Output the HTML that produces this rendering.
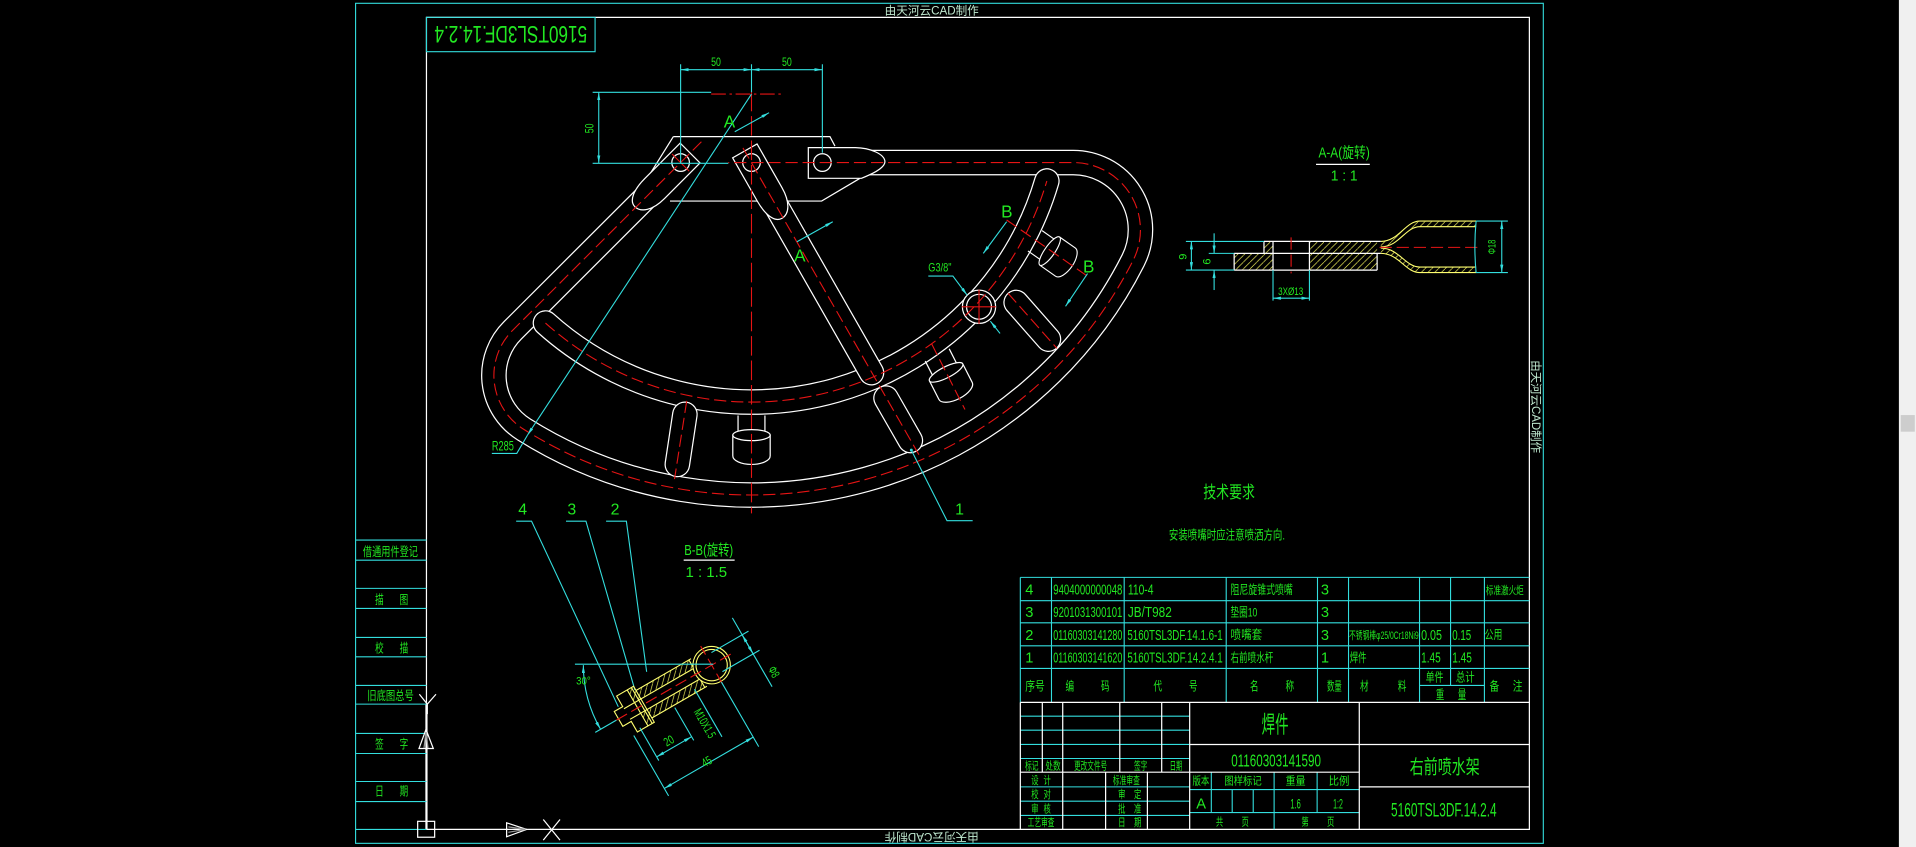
<!DOCTYPE html>
<html><head><meta charset="utf-8">
<style>
html,body{margin:0;padding:0;background:#000;overflow:hidden}
svg{display:block}
text{font-family:"Liberation Sans Narrow","Liberation Sans","Noto Sans CJK SC",sans-serif;fill:#22e822}
.cn{font-family:"Liberation Sans","Noto Sans CJK SC",sans-serif}
.w{stroke:#fff;stroke-width:1;fill:none}
.c{stroke:#33dede;stroke-width:0.9;fill:none}
.r{stroke:#e61414;stroke-width:0.9;fill:none;stroke-dasharray:10 4}
.y{stroke:#ffff70;stroke-width:0.9;fill:none}
.wm{fill:#bfe8cf}
</style></head><body>
<svg width="1916" height="847" viewBox="0 0 1568 693" preserveAspectRatio="none" xmlns="http://www.w3.org/2000/svg">
<defs>
<pattern id="h" patternUnits="userSpaceOnUse" width="5.5" height="5.5"><path d="M-1,6.5 L6.5,-1" stroke="#ffff60" stroke-width="0.5"/></pattern>
<marker id="a" viewBox="0 0 10 4" refX="10" refY="2" markerWidth="6.5" markerHeight="2.6" markerUnits="userSpaceOnUse" orient="auto-start-reverse"><path d="M0,0L10,2L0,4z" fill="#33dede"/></marker>
</defs>
<rect width="1568" height="693" fill="#000"/>

<!-- scrollbar -->
<rect x="1554" y="0" width="14" height="693" fill="#f0f0f0"/>
<rect x="1555.5" y="339.6" width="11.5" height="13.6" fill="#cdcdcd"/>

<!-- frames -->
<rect class="c" x="291" y="2.7" width="972" height="687.3"/>
<path class="w" d="M349,14.2 H1251.6 V678.6 H349 Z"/>
<path d="M349,576 V678.6" stroke="#fff" stroke-width="1.8"/>
<rect class="c" x="349" y="14.2" width="138" height="28.1"/>
<text transform="rotate(180 418 28.3)" x="418" y="35.5" font-size="20" text-anchor="middle" textLength="125" lengthAdjust="spacingAndGlyphs">5160TSL3DF.14.2.4</text>

<!-- watermarks -->
<text class="wm cn" x="724" y="12" font-size="9.5" textLength="77" lengthAdjust="spacingAndGlyphs">由天河云CAD制作</text>
<text class="wm cn" transform="rotate(180 762.5 685)" x="724" y="688.5" font-size="9.5" textLength="77" lengthAdjust="spacingAndGlyphs">由天河云CAD制作</text>
<text class="wm cn" transform="translate(1257.3 332.7) rotate(90)" x="-38" y="3.4" font-size="9.5" textLength="76" lengthAdjust="spacingAndGlyphs">由天河云CAD制作</text>

<!-- left table -->
<g class="c">
<path d="M291,441.9 H349 M291,458.3 H349 M291,481.4 H349 M291,497.8 H349 M291,521.5 H349 M291,537.4 H349 M291,560.8 H349 M291,576.1 H349 M291,600.1 H349 M291,616.5 H349 M291,639.4 H349 M291,655.8 H349 M291,678.6 H349"/>
</g>
<g class="cn" font-size="10">
<text x="297" y="455" textLength="45" lengthAdjust="spacingAndGlyphs">借通用件登记</text>
<text x="307" y="494" textLength="7" lengthAdjust="spacingAndGlyphs">描</text><text x="327" y="494" textLength="7" lengthAdjust="spacingAndGlyphs">图</text>
<text x="307" y="533.7" textLength="7" lengthAdjust="spacingAndGlyphs">校</text><text x="327" y="533.7" textLength="7" lengthAdjust="spacingAndGlyphs">描</text>
<text x="300.6" y="572.7" textLength="38" lengthAdjust="spacingAndGlyphs">旧底图总号</text>
<text x="307" y="612.3" textLength="7" lengthAdjust="spacingAndGlyphs">签</text><text x="327" y="612.3" textLength="7" lengthAdjust="spacingAndGlyphs">字</text>
<text x="307" y="651" textLength="7" lengthAdjust="spacingAndGlyphs">日</text><text x="327" y="651" textLength="7" lengthAdjust="spacingAndGlyphs">期</text>
</g>
<!-- bottom-left symbols -->
<g class="w">
<path d="M343.2,568 L349.7,576.1 L356.8,568 M349.7,576.1 V584.3"/>
<path d="M348.6,596.8 L342.9,612.4 H354.6 Z"/>
<path d="M348.6,599 L347,612 M348.6,599 L350.3,612" stroke="#999"/>
<rect x="341.8" y="672" width="13.9" height="13"/>
<path d="M414.6,673.2 L431,678.6 L414.6,684.6 Z"/>
<path d="M416,676.5 L430,678.6 M416,681 L430,678.6" stroke="#999"/>
<path d="M444.6,670.5 L458.3,687.4 M458.3,670.5 L444.6,687.4"/>
</g>

<!-- ============ MAIN VIEW ============ -->
<path class="w" d="M551,111.8 H679.2 L683.3,119.5 M548.3,164.5 H672.4 L703.8,145.9 M551,111.8 L523.7,155.5"/>

<g fill="none">
<path d="M557,133 L419.6,270.2 A52,52 0 0 0 428.7,351.3 A350,350 0 0 0 927.4,212.8 A55,55 0 0 0 878.3,133 L700,133" stroke="#fff" stroke-width="21"/>
<path d="M557,133 L419.6,270.2 A52,52 0 0 0 428.7,351.3 A350,350 0 0 0 927.4,212.8 A55,55 0 0 0 878.3,133 L700,133" stroke="#000" stroke-width="19"/>
<path d="M446.4,264.3 A252,252 0 0 0 856.7,148.1" stroke="#fff" stroke-width="21" stroke-linecap="round"/>
<path d="M446.4,264.3 A252,252 0 0 0 856.7,148.1" stroke="#000" stroke-width="19" stroke-linecap="round"/>
<path d="M615,133 L713.2,304.9" stroke="#fff" stroke-width="21" stroke-linecap="round"/>
<path d="M615,133 L713.2,304.9" stroke="#000" stroke-width="19" stroke-linecap="round"/>
<path d="M725.1,325.7 L745,360.4" stroke="#fff" stroke-width="21" stroke-linecap="round"/>
<path d="M725.1,325.7 L745,360.4" stroke="#000" stroke-width="19" stroke-linecap="round"/>
<path d="M560.5,339 L554.3,380" stroke="#fff" stroke-width="21" stroke-linecap="round"/>
<path d="M560.5,339 L554.3,380" stroke="#000" stroke-width="19" stroke-linecap="round"/>
<path d="M831.6,247.5 L858,277.5" stroke="#fff" stroke-width="21" stroke-linecap="round"/>
<path d="M831.6,247.5 L858,277.5" stroke="#000" stroke-width="19" stroke-linecap="round"/>
</g>

<g stroke="#fff" stroke-width="1">
<g transform="translate(615,340) rotate(90)">
<path d="M0,-11 H13 M0,11 H13" fill="none"/>
<path d="M16,-15.3 H33 A7,15.3 0 0 1 33,15.3 H16" fill="#000"/>
<ellipse cx="16" cy="0" rx="4.5" ry="15.3" fill="#000"/>
</g>
<g transform="translate(767,290.4) rotate(63)">
<path d="M0,-11 H13 M0,11 H13" fill="none"/>
<path d="M16,-15.3 H33 A7,15.3 0 0 1 33,15.3 H16" fill="#000"/>
<ellipse cx="16" cy="0" rx="4.5" ry="15.3" fill="#000"/>
</g>
<g transform="translate(847,197) rotate(35) scale(0.92)">
<path d="M0,-11 H13 M0,11 H13" fill="none"/>
<path d="M16,-15.3 H33 A7,15.3 0 0 1 33,15.3 H16" fill="#000"/>
<ellipse cx="16" cy="0" rx="4.5" ry="15.3" fill="#000"/>
</g>
</g>

<g stroke="#fff" stroke-width="1" fill="#000">
<g transform="translate(557,133) rotate(135)"><path d="M-11,-11.5 H30 C44,-11.5 52,-6 52,1 C52,8 42,11.5 30,11.5 H-11 Z"/></g>
<g transform="translate(615,133) rotate(60.3)"><path d="M-11,-11.5 H30 C44,-11.5 52,-6 52,1 C52,8 42,11.5 30,11.5 H-11 Z"/></g>
<path d="M661.5,120.8 H700 C712,121 724,126 724.2,132.3 C724,138 712,143 705,145.9 H661.5 Z"/>
<circle cx="557" cy="133" r="7.2"/>
<circle cx="615" cy="133" r="7.2"/>
<circle cx="673" cy="133" r="7.2"/>
<circle cx="801.2" cy="251" r="13.6"/>
<circle cx="801.2" cy="251" r="10.2"/>
</g>

<g class="r">
<path d="M574,116 L557,133 L419.6,270.2 A52,52 0 0 0 428.7,351.3 A350,350 0 0 0 927.4,212.8 A55,55 0 0 0 878.3,133 L596,133"/>
<path d="M446.4,264.3 A252,252 0 0 0 856.7,148.1"/>
<path d="M608,121 L752,372"/>
<path d="M562,328 L552,392"/>
<path d="M825,240 L865,285"/>
<path d="M762.5,281.5 L789.7,335"/>
<path d="M823.8,180 L890,226"/>
<path d="M615,75 V420" stroke-dasharray="16 4"/>
<path d="M582,77 H641" stroke-dasharray="12 3 2 3"/>
<path d="M787,251 H815 M801.2,237 V265" stroke-dasharray="none"/>
<path d="M550,126 L564,140" stroke-dasharray="none"/>
</g>

<g class="c">
<path d="M557,52.6 V133.6 M615,52.6 V75.5 M673,52.6 V125"/>
<path d="M485,75.5 H582 M485,133.6 H596"/>
<path d="M557,57 H615" marker-start="url(#a)" marker-end="url(#a)"/>
<path d="M615,57 H673" marker-start="url(#a)" marker-end="url(#a)"/>
<path d="M490,75.5 V133.6" marker-start="url(#a)" marker-end="url(#a)"/>
<path d="M615,77 L431.7,356" marker-end="url(#a)"/>
<path d="M431.7,356 L422.9,371 H402.5"/>
<path d="M601.3,107.8 L629.4,92.2" marker-end="url(#a)"/>
<path d="M652.2,197.8 L681.5,181.4" marker-end="url(#a)"/>
<path d="M823.8,181.4 L804.7,207.3" marker-end="url(#a)"/>
<path d="M890,223.8 L872,250.6" marker-end="url(#a)"/>
<path d="M759.7,225.9 H779.8 L791.5,241.5" marker-end="url(#a)"/>
<path d="M818.4,272.8 L810.5,262.8" marker-end="url(#a)"/>
<path d="M796,426 H775 L745.8,368.3"/>
</g>
<circle cx="745.8" cy="368.3" r="1.2" fill="#33dede"/>
<g font-size="10">
<text x="586" y="54" text-anchor="middle" textLength="8" lengthAdjust="spacingAndGlyphs">50</text>
<text x="644" y="54" text-anchor="middle" textLength="8" lengthAdjust="spacingAndGlyphs">50</text>
<text transform="translate(485.5 105) rotate(-90)" x="0" y="0" text-anchor="middle" textLength="8" lengthAdjust="spacingAndGlyphs">50</text>
<text x="759.7" y="222" textLength="19" lengthAdjust="spacingAndGlyphs">G3/8"</text>
</g>
<text x="402.5" y="368.5" font-size="11" textLength="18" lengthAdjust="spacingAndGlyphs">R285</text>
<text x="597" y="104.5" font-size="14" text-anchor="middle">A</text>
<text x="654.6" y="214" font-size="14" text-anchor="middle">A</text>
<text x="824" y="178" font-size="14" text-anchor="middle">B</text>
<text x="891" y="223" font-size="14" text-anchor="middle">B</text>
<text x="785.3" y="421" font-size="13" text-anchor="middle">1</text>

<g class="c">
<path d="M422.4,426.4 H435 L506,578.3"/>
<path d="M463.2,426.4 H479.5 L519.6,564.6"/>
<path d="M496,426.4 H512.6 L529.2,549.7"/>
</g>
<g font-size="13" text-anchor="middle">
<text x="427.7" y="421">4</text><text x="468" y="421">3</text><text x="503.3" y="421">2</text>
</g>

<!-- ============ B-B SECTION ============ -->
<text x="560" y="454" font-size="12" textLength="40" lengthAdjust="spacingAndGlyphs">B-B(旋转)</text>
<path class="w" d="M559.5,458.3 H601.2"/>
<text x="561" y="472" font-size="12" textLength="34" lengthAdjust="spacingAndGlyphs">1 : 1.5</text>
<g transform="translate(582.4,544.2) rotate(150)">
<rect x="14" y="-13" width="52" height="8" fill="url(#h)"/>
<rect x="14" y="5" width="52" height="8" fill="url(#h)"/>
<rect x="66" y="-17" width="4" height="12" fill="url(#h)"/>
<rect x="66" y="5" width="4" height="12" fill="url(#h)"/>
<g class="y">
<path d="M12,-13 H64 M12,13 H64 M14,-5 H80 M14,5 H80 M14,-13 V-5 M14,5 V13"/>
<path d="M64,-17 H80 V-7 H88 V7 H80 V17 H64 Z M70,-17 V17 M66,-17 V17"/>
<circle cx="0" cy="0" r="15.3" fill="#000"/>
<circle cx="0" cy="0" r="12.8"/>
</g>
<path class="r" d="M-18,0 H92"/>
<path class="r" d="M0,-18 V18" stroke-dasharray="none"/>
<g class="c">
<path d="M90,0 H110"/>
<path d="M43.5,-15 V-46 M76.5,-15 V-46 M0,-16 V-77 M84,-18 V-75"/>
<path d="M43.5,-42.5 H76.5" marker-start="url(#a)" marker-end="url(#a)"/>
<path d="M0,-68 H84" marker-start="url(#a)" marker-end="url(#a)"/>
<path d="M-5,-9 H-40 M-5,9 H-40"/>
<path d="M-34,-40 V9" marker-end="url(#a)"/>
<path d="M-34,25 V-9" marker-end="url(#a)"/>
<path d="M22,-10 V-55"/>
</g>
</g>
<g class="c">
<path d="M470.5,543.4 H583.7"/>
<path d="M477.4,544.2 A105,105 0 0 0 491.5,596.7" marker-start="url(#a)" marker-end="url(#a)"/>
</g>
<text x="471.5" y="560" font-size="9" textLength="12" lengthAdjust="spacingAndGlyphs">30°</text>
<text transform="translate(549 609) rotate(-30)" x="0" y="0" font-size="10" text-anchor="middle" textLength="8" lengthAdjust="spacingAndGlyphs">20</text>
<text transform="translate(580 626) rotate(-30)" x="0" y="0" font-size="10" text-anchor="middle" textLength="8" lengthAdjust="spacingAndGlyphs">45</text>
<text transform="translate(576.5 592) rotate(60)" x="0" y="3" font-size="10" text-anchor="middle" textLength="26" lengthAdjust="spacingAndGlyphs">M10X1.5</text>
<text transform="translate(633 550) rotate(60)" x="0" y="3" font-size="10" text-anchor="middle" textLength="9" lengthAdjust="spacingAndGlyphs">Φ8</text>

<!-- ============ A-A SECTION ============ -->
<text x="1079" y="129" font-size="12" textLength="42" lengthAdjust="spacingAndGlyphs">A-A(旋转)</text>
<path class="w" d="M1077,134.5 H1121"/>
<text x="1100" y="147.5" font-size="12" text-anchor="middle" textLength="22" lengthAdjust="spacingAndGlyphs">1 : 1</text>
<rect x="1034.4" y="197.5" width="7.4" height="9.8" fill="url(#h)"/>
<rect x="1010" y="207.3" width="31.8" height="13.7" fill="url(#h)"/>
<rect x="1071.6" y="197.5" width="55.4" height="23.5" fill="url(#h)"/>
<path d="M1130,197.5 C1145,197.5 1150,180.9 1162,180.9 H1208 V185.5 H1162 C1150,185.5 1145,202 1130,202 Z" fill="url(#h)"/>
<path d="M1130,207.3 C1145,207.3 1150,223 1162,223 H1208 V218.5 H1162 C1150,218.5 1145,203 1130,203 Z" fill="url(#h)"/>
<g class="w">
<path d="M1034.4,197.5 H1130 M1010,207.3 H1130 M1010,221 H1127 M1010,207.3 V221 M1127,207.3 V221 M1034.4,197.5 V207.3"/>
<path d="M1041.8,197.5 V221 M1071.6,197.5 V221"/>
</g>
<g class="y">
<path d="M1130,197.5 C1145,197.5 1150,180.9 1162,180.9 H1208"/>
<path d="M1130,202 C1145,202 1150,185.5 1162,185.5 H1208"/>
<path d="M1130,207.3 C1145,207.3 1150,223 1162,223 H1208"/>
<path d="M1130,203 C1145,203 1150,218.5 1162,218.5 H1208"/>
</g>
<path class="r" d="M1056.6,194.2 V223.7" stroke-dasharray="none"/>
<path class="r" d="M1129,202.4 H1213"/>
<g class="c">
<path d="M970.5,197.5 H1034.4 M989.2,207.3 H1010 M970.5,221 H1010"/>
<path d="M975,197.5 V221" marker-start="url(#a)" marker-end="url(#a)"/>
<path d="M993.6,190.9 V207.3" marker-end="url(#a)"/>
<path d="M993.6,237.3 V221" marker-end="url(#a)"/>
<path d="M1041.8,221 V246 M1071.6,221 V246"/>
<path d="M1041.8,244 H1071.6" marker-start="url(#a)" marker-end="url(#a)"/>
<path d="M1208,180.9 Q1206,202 1208,223"/>
<path d="M1208,180.9 H1234 M1208,223 H1234"/>
<path d="M1229,180.9 V223" marker-start="url(#a)" marker-end="url(#a)"/>
</g>
<text transform="translate(971 210) rotate(-90)" x="0" y="0" font-size="9" text-anchor="middle">9</text>
<text transform="translate(990.5 214) rotate(-90)" x="0" y="0" font-size="9" text-anchor="middle">6</text>
<text x="1046" y="241.5" font-size="9" textLength="20.5" lengthAdjust="spacingAndGlyphs">3XØ13</text>
<text transform="translate(1224 202) rotate(-90)" x="0" y="0" font-size="9" text-anchor="middle" textLength="12" lengthAdjust="spacingAndGlyphs">Φ18</text>

<!-- tech requirements -->
<text class="cn" x="984.7" y="407.5" font-size="14" textLength="42.3" lengthAdjust="spacingAndGlyphs">技术要求</text>
<text class="cn" x="956.6" y="441.5" font-size="10.5" textLength="95" lengthAdjust="spacingAndGlyphs">安装喷嘴时应注意喷洒方向.</text>

<!-- ============ PARTS LIST ============ -->
<g class="c">
<path d="M835,472.4 H1251.6 M835,491.5 H1251.6 M835,509.6 H1251.6 M835,528.4 H1251.6 M835,546.9 H1251.6 M1161.7,560.8 H1214.8"/>
<path d="M835,472.4 V574.7 M860.5,472.4 V574.7 M920,472.4 V574.7 M1003.5,472.4 V574.7 M1078.2,472.4 V574.7 M1103.6,472.4 V574.7 M1161.7,472.4 V574.7 M1187.1,472.4 V560.8 M1214.8,472.4 V574.7"/>
</g>
<g font-size="12">
<text x="839" y="486.5">4</text><text x="839" y="505">3</text><text x="839" y="523.5">2</text><text x="839" y="542">1</text>
<text x="862" y="486.5" textLength="56.5" lengthAdjust="spacingAndGlyphs">9404000000048</text>
<text x="862" y="505" textLength="56.5" lengthAdjust="spacingAndGlyphs">9201031300101</text>
<text x="862" y="523.5" textLength="56.5" lengthAdjust="spacingAndGlyphs">01160303141280</text>
<text x="862" y="542" textLength="56.5" lengthAdjust="spacingAndGlyphs">01160303141620</text>
<text x="923" y="486.5" textLength="21" lengthAdjust="spacingAndGlyphs">110-4</text>
<text x="923" y="505" textLength="36" lengthAdjust="spacingAndGlyphs">JB/T982</text>
<text x="922.6" y="523.5" textLength="78" lengthAdjust="spacingAndGlyphs">5160TSL3DF.14.1.6-1</text>
<text x="922.6" y="542" textLength="78" lengthAdjust="spacingAndGlyphs">5160TSL3DF.14.2.4.1</text>
<text x="1081" y="486.5">3</text><text x="1081" y="505">3</text><text x="1081" y="523.5">3</text><text x="1081" y="542">1</text>
<text x="1163" y="523.5" textLength="17" lengthAdjust="spacingAndGlyphs">0.05</text>
<text x="1188.5" y="523.5" textLength="15.5" lengthAdjust="spacingAndGlyphs">0.15</text>
<text x="1163" y="542" textLength="16" lengthAdjust="spacingAndGlyphs">1.45</text>
<text x="1188.5" y="542" textLength="16" lengthAdjust="spacingAndGlyphs">1.45</text>
</g>
<g class="cn" font-size="10">
<text x="1007" y="486" textLength="51" lengthAdjust="spacingAndGlyphs">阻尼旋锥式喷嘴</text>
<text x="1007" y="504.5" textLength="22" lengthAdjust="spacingAndGlyphs">垫圈10</text>
<text x="1007" y="523" textLength="26" lengthAdjust="spacingAndGlyphs">喷嘴套</text>
<text x="1007" y="541.5" textLength="35" lengthAdjust="spacingAndGlyphs">右前喷水杆</text>
<text x="1216" y="486" font-size="9" textLength="31" lengthAdjust="spacingAndGlyphs">标准激火炬</text>
<text x="1104" y="523" font-size="9" textLength="57" lengthAdjust="spacingAndGlyphs">不锈钢棒φ25/0Cr18Ni9</text>
<text x="1215" y="523" textLength="14.5" lengthAdjust="spacingAndGlyphs">公用</text>
<text x="1104.6" y="541.5" textLength="13.7" lengthAdjust="spacingAndGlyphs">焊件</text>
<text x="839" y="565" textLength="16" lengthAdjust="spacingAndGlyphs">序号</text>
<text x="872" y="565" textLength="7" lengthAdjust="spacingAndGlyphs">编</text><text x="901" y="565" textLength="7" lengthAdjust="spacingAndGlyphs">码</text>
<text x="944" y="565" textLength="7" lengthAdjust="spacingAndGlyphs">代</text><text x="973" y="565" textLength="7" lengthAdjust="spacingAndGlyphs">号</text>
<text x="1023" y="565" textLength="7" lengthAdjust="spacingAndGlyphs">名</text><text x="1052" y="565" textLength="7" lengthAdjust="spacingAndGlyphs">称</text>
<text x="1086" y="565" textLength="12" lengthAdjust="spacingAndGlyphs">数量</text>
<text x="1113" y="565" textLength="7" lengthAdjust="spacingAndGlyphs">材</text><text x="1144" y="565" textLength="7" lengthAdjust="spacingAndGlyphs">料</text>
<text x="1166.7" y="557.5" textLength="14.6" lengthAdjust="spacingAndGlyphs">单件</text>
<text x="1191.5" y="557.5" textLength="15.3" lengthAdjust="spacingAndGlyphs">总计</text>
<text x="1175" y="572" textLength="7" lengthAdjust="spacingAndGlyphs">重</text><text x="1193" y="572" textLength="7" lengthAdjust="spacingAndGlyphs">量</text>
<text x="1219" y="565" textLength="8" lengthAdjust="spacingAndGlyphs">备</text><text x="1238" y="565" textLength="8" lengthAdjust="spacingAndGlyphs">注</text>
</g>

<!-- ============ TITLE BLOCK ============ -->
<g class="c">
<path d="M835,586 H973.6 M835,597.4 H973.6 M835,609.1 H973.6 M835,620.6 H973.6"/>
<path d="M835,643.8 H973.6 M835,655.5 H973.6 M835,667.2 H973.6"/>
<path d="M973.6,646 H1112.4 M973.6,664.8 H1112.4"/>
<path d="M991.3,631.8 V664.8 M1008.4,646 V664.8 M1025.6,646 V664.8 M1042.7,631.8 V678.6 M1077.9,631.8 V664.8"/>
</g>
<g class="w">
<path d="M835,574.7 H1251.6 M835,574.7 V678.6"/>
<path d="M853,574.7 V631.8 M869.7,574.7 V678.6 M916.4,574.7 V631.8 M950.7,574.7 V631.8"/>
<path d="M835,631.8 H1112.4 M973.6,609.1 H1251.6 M1112.4,643.8 H1251.6"/>
<path d="M904.8,631.8 V678.6 M939,631.8 V678.6 M973.6,574.7 V678.6 M1112.4,574.7 V678.6"/>
</g>
<g class="cn" font-size="9">
<text x="838.9" y="629.5" textLength="11" lengthAdjust="spacingAndGlyphs">标记</text>
<text x="855.5" y="629.5" textLength="12.5" lengthAdjust="spacingAndGlyphs">处数</text>
<text x="879" y="629.5" textLength="27" lengthAdjust="spacingAndGlyphs">更改文件号</text>
<text x="928" y="629.5" textLength="11" lengthAdjust="spacingAndGlyphs">签字</text>
<text x="957.3" y="629.5" textLength="10.2" lengthAdjust="spacingAndGlyphs">日期</text>
<text x="844" y="641.5" textLength="6" lengthAdjust="spacingAndGlyphs">设</text><text x="854" y="641.5" textLength="6" lengthAdjust="spacingAndGlyphs">计</text>
<text x="910.8" y="641.5" textLength="22" lengthAdjust="spacingAndGlyphs">标准审查</text>
<text x="844" y="653" textLength="6" lengthAdjust="spacingAndGlyphs">校</text><text x="854" y="653" textLength="6" lengthAdjust="spacingAndGlyphs">对</text>
<text x="915" y="653" textLength="6" lengthAdjust="spacingAndGlyphs">审</text><text x="928" y="653" textLength="6" lengthAdjust="spacingAndGlyphs">定</text>
<text x="844" y="664.8" textLength="6" lengthAdjust="spacingAndGlyphs">审</text><text x="854" y="664.8" textLength="6" lengthAdjust="spacingAndGlyphs">核</text>
<text x="915" y="664.8" textLength="6" lengthAdjust="spacingAndGlyphs">批</text><text x="928" y="664.8" textLength="6" lengthAdjust="spacingAndGlyphs">准</text>
<text x="841" y="676" textLength="22" lengthAdjust="spacingAndGlyphs">工艺审查</text>
<text x="915" y="676" textLength="6" lengthAdjust="spacingAndGlyphs">日</text><text x="928" y="676" textLength="6" lengthAdjust="spacingAndGlyphs">期</text>
<text x="975.9" y="642" textLength="13.8" lengthAdjust="spacingAndGlyphs">版本</text>
<text x="1002" y="642" textLength="30.5" lengthAdjust="spacingAndGlyphs">图样标记</text>
<text x="1052" y="642" textLength="16.5" lengthAdjust="spacingAndGlyphs">重量</text>
<text x="1087.3" y="642" textLength="17" lengthAdjust="spacingAndGlyphs">比例</text>
<text x="995" y="675.5" textLength="6" lengthAdjust="spacingAndGlyphs">共</text><text x="1016" y="675.5" textLength="6" lengthAdjust="spacingAndGlyphs">页</text>
<text x="1065" y="675.5" textLength="6" lengthAdjust="spacingAndGlyphs">第</text><text x="1086" y="675.5" textLength="6" lengthAdjust="spacingAndGlyphs">页</text>
</g>
<text class="cn" x="1032.5" y="599.5" font-size="19" textLength="22" lengthAdjust="spacingAndGlyphs">焊件</text>
<text x="1007.6" y="627" font-size="14" textLength="73.4" lengthAdjust="spacingAndGlyphs">01160303141590</text>
<text x="979" y="661.5" font-size="12">A</text>
<text x="1056" y="661.5" font-size="11" textLength="8.5" lengthAdjust="spacingAndGlyphs">1.6</text>
<text x="1091" y="661.5" font-size="11" textLength="8" lengthAdjust="spacingAndGlyphs">1:2</text>
<text class="cn" x="1153.7" y="633" font-size="16" textLength="57.3" lengthAdjust="spacingAndGlyphs">右前喷水架</text>
<text x="1138.4" y="668" font-size="16" textLength="86.4" lengthAdjust="spacingAndGlyphs">5160TSL3DF.14.2.4</text>
</svg>
</body></html>
